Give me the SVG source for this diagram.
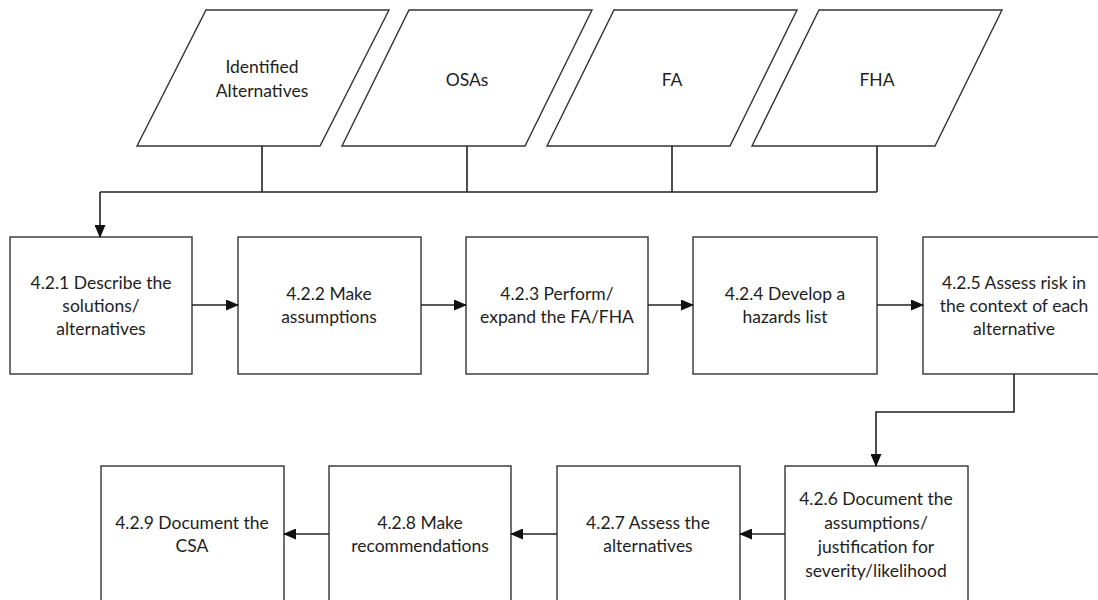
<svg xmlns="http://www.w3.org/2000/svg" width="1098" height="600" viewBox="0 0 1098 600">
<style>
.s{fill:#fff;stroke:#333;stroke-width:1.4}
.t{font-family:Lato,"Liberation Sans",sans-serif;font-size:17.5px;fill:#1e1e1e;text-anchor:middle}
.c{fill:none;stroke:#222;stroke-width:1.6}
</style>
<defs>
<marker id="a" markerWidth="13" markerHeight="11" refX="12" refY="5.5" orient="auto" markerUnits="userSpaceOnUse">
<path d="M0,0 L13,5.5 L0,11 Z" fill="#111"/>
</marker>
</defs>
<rect width="1098" height="600" fill="#fff"/>
<g id="in1"><polygon class="s" points="137,146 320,146 389,10 206,10"/><text class="t" x="262" y="73">Identified</text><text class="t" x="262" y="97">Alternatives</text></g>
<g id="in2"><polygon class="s" points="342,146 525,146 592,10 409,10"/><text class="t" x="467" y="86">OSAs</text></g>
<g id="in3"><polygon class="s" points="547,146 730,146 797,10 614,10"/><text class="t" x="672" y="86">FA</text></g>
<g id="in4"><polygon class="s" points="752,146 935,146 1002,10 819,10"/><text class="t" x="877" y="86">FHA</text></g>

<g id="n1"><rect class="s" x="10" y="237" width="182" height="137"/><text class="t" x="101" y="289">4.2.1 Describe the</text><text class="t" x="101" y="312">solutions/</text><text class="t" x="101" y="335">alternatives</text></g>
<g id="n2"><rect class="s" x="238" y="237" width="183" height="137"/><text class="t" x="329" y="300">4.2.2 Make</text><text class="t" x="329" y="323">assumptions</text></g>
<g id="n3"><rect class="s" x="466" y="237" width="182" height="137"/><text class="t" x="557" y="300">4.2.3 Perform/</text><text class="t" x="557" y="323">expand the FA/FHA</text></g>
<g id="n4"><rect class="s" x="693" y="237" width="184" height="137"/><text class="t" x="785" y="300">4.2.4 Develop a</text><text class="t" x="785" y="323">hazards list</text></g>
<g id="n5"><rect class="s" x="923" y="237" width="183" height="137"/><text class="t" x="1014" y="289">4.2.5 Assess risk in</text><text class="t" x="1014" y="312">the context of each</text><text class="t" x="1014" y="335">alternative</text></g>

<g id="n6"><rect class="s" x="785" y="466" width="183" height="140"/><text class="t" x="876" y="505">4.2.6 Document the</text><text class="t" x="876" y="529">assumptions/</text><text class="t" x="876" y="553">justification for</text><text class="t" x="876" y="577">severity/likelihood</text></g>
<g id="n7"><rect class="s" x="557" y="466" width="183" height="140"/><text class="t" x="648" y="529">4.2.7 Assess the</text><text class="t" x="648" y="552">alternatives</text></g>
<g id="n8"><rect class="s" x="329" y="466" width="182" height="140"/><text class="t" x="420" y="529">4.2.8 Make</text><text class="t" x="420" y="552">recommendations</text></g>
<g id="n9"><rect class="s" x="101" y="466" width="183" height="140"/><text class="t" x="192" y="529">4.2.9 Document the</text><text class="t" x="192" y="552">CSA</text></g>

<g id="connectors">
<path class="c" d="M262,146 V192 M467,146 V192 M672,146 V192 M877,146 V192 M877,192 H100"/>
<path class="c" d="M100,192 V237" marker-end="url(#a)"/>
<path class="c" d="M192,305 H238" marker-end="url(#a)"/>
<path class="c" d="M421,305 H466" marker-end="url(#a)"/>
<path class="c" d="M648,305 H693" marker-end="url(#a)"/>
<path class="c" d="M877,305 H923" marker-end="url(#a)"/>
<path class="c" d="M1014,374 V412 H876 V466" marker-end="url(#a)"/>
<path class="c" d="M785,534 H740" marker-end="url(#a)"/>
<path class="c" d="M557,534 H511" marker-end="url(#a)"/>
<path class="c" d="M329,534 H284" marker-end="url(#a)"/>
</g>
</svg>
